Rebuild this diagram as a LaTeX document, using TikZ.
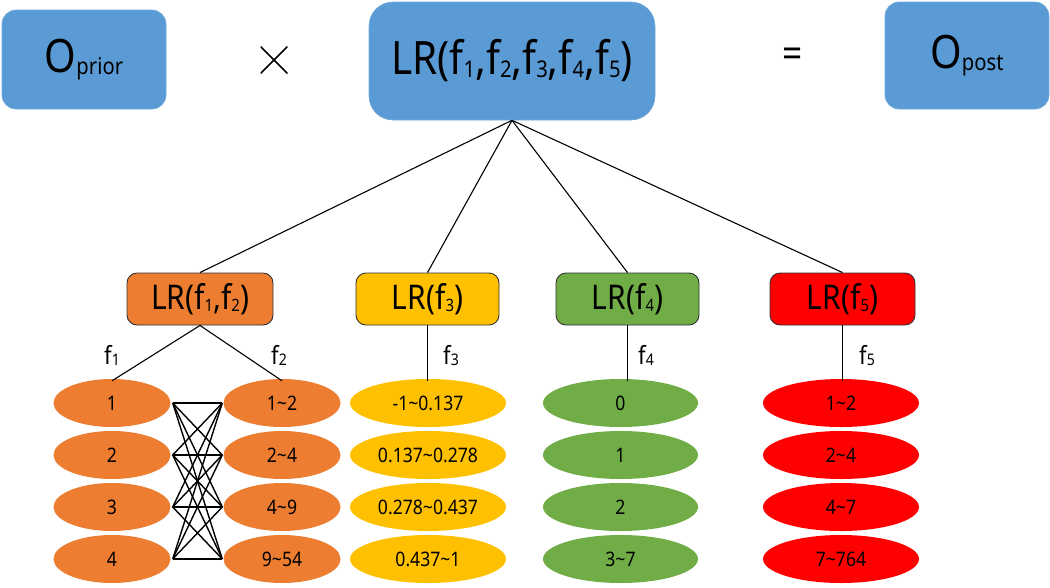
\documentclass[tikz,border=0pt]{standalone}
\usepackage{fontspec}
\setmainfont{Noto Sans}[FakeStretch=0.88]
\usetikzlibrary{shapes.geometric}
\definecolor{cblue}{HTML}{5B9BD5}
\definecolor{corange}{HTML}{ED7D31}
\definecolor{cyellow}{HTML}{FFC000}
\definecolor{cgreen}{HTML}{70AD47}
\definecolor{cred}{HTML}{FF0000}
\newcommand\mysub[2]{\raisebox{-0.05em}{\fontsize{#1}{#1}\selectfont #2}}
\begin{document}
\begin{tikzpicture}[x=1pt,y=-1pt,
  topbox/.style={rectangle,rounded corners=14pt,fill=cblue,draw=cblue!85!white,line width=0.6pt,inner sep=0pt,font=\fontsize{46}{46}\selectfont},
  midbox/.style={rectangle,rounded corners=10pt,draw=black!80,line width=0.9pt,inner sep=0pt,minimum height=52pt,font=\fontsize{34}{34}\selectfont},
  val/.style={ellipse,inner sep=0pt,minimum height=48pt,font=\fontsize{20}{20}\selectfont},
  flab/.style={anchor=base,inner sep=0pt,font=\fontsize{25}{25}\selectfont},
  link/.style={draw=black,line width=1.1pt},
  mesh/.style={draw=black,line width=1.4pt},
  opsign/.style={inner sep=0pt,minimum size=#1,path picture={
     \draw[line width=1.6pt] (path picture bounding box.north west) -- (path picture bounding box.south east)
       (path picture bounding box.north east) -- (path picture bounding box.south west);}}]
\useasboundingbox (0,0) rectangle (1050,587);
% top row
\node[topbox,minimum width=164pt,minimum height=99pt] (oprior) at (84,59.5) {O\mysub{23pt}{prior}};
\node[opsign=27pt] (times) at (274,60) {};
\node[topbox,rounded corners=24pt,minimum width=286pt,minimum height=118pt] (lrall) at (512,61)
  {LR(f\mysub{23pt}{1},f\mysub{23pt}{2},f\mysub{23pt}{3},f\mysub{23pt}{4},f\mysub{23pt}{5})};
\node[font=\fontsize{40}{40}\selectfont,inner sep=0pt] (eq) at (793,58) {=};
\node[topbox,minimum width=164pt,minimum height=107pt] (opost) at (967,55.5) {O\mysub{23pt}{post}};
% second level
\node[midbox,fill=corange,minimum width=146pt] (lr12) at (200,299) {LR(f\mysub{17pt}{1},f\mysub{17pt}{2})};
\node[midbox,fill=cyellow,minimum width=143pt] (lr3) at (427.5,299) {LR(f\mysub{17pt}{3})};
\node[midbox,fill=cgreen,minimum width=143pt] (lr4) at (627.5,299) {LR(f\mysub{17pt}{4})};
\node[midbox,fill=cred,minimum width=145pt] (lr5) at (842.5,299) {LR(f\mysub{17pt}{5})};
\foreach \n in {lr12,lr3,lr4,lr5} \draw[link] (lrall.south) -- (\n.north);
% value ellipses
\foreach \i/\y/\a/\b/\c/\d/\e in {1/403/1/1\textasciitilde2/-1\textasciitilde0.137/0/1\textasciitilde2,
                                   2/455/2/2\textasciitilde4/0.137\textasciitilde0.278/1/2\textasciitilde4,
                                   3/507/3/4\textasciitilde9/0.278\textasciitilde0.437/2/4\textasciitilde7,
                                   4/559/4/9\textasciitilde54/0.437\textasciitilde1/3\textasciitilde7/7\textasciitilde764}{
  \node[val,fill=corange,minimum width=117pt] (a\i) at (112,\y) {\a};
  \node[val,fill=corange,minimum width=117pt] (b\i) at (282,\y) {\b};
  \node[val,fill=cyellow,minimum width=156pt] (c\i) at (428,\y) {\c};
  \node[val,fill=cgreen,minimum width=155pt] (d\i) at (620.5,\y) {\d};
  \node[val,fill=cred,minimum width=156pt] (e\i) at (841,\y) {\e};
}
% mesh between f1 and f2 values
\foreach \i in {1,...,4}{\foreach \j in {1,...,4}{
  \draw[mesh] ([xshift=2pt]a\i.east) -- ([xshift=-1pt]b\j.west);
}}
% feature links
\draw[link] (lr12.south) -- ([yshift=-2pt]a1.north);
\draw[link] (lr12.south) -- ([yshift=-2pt]b1.north);
\draw[link] (lr3.south) -- ([yshift=-2pt]lr3.south |- c1.north);
\draw[link] (lr4.south) -- ([yshift=-2pt]lr4.south |- d1.north);
\draw[link] (lr5.south) -- ([yshift=-2pt]lr5.south |- e1.north);
\node[flab] (f1) at (112,364) {f\mysub{16pt}{1}};
\node[flab] (f2) at (279,364) {f\mysub{16pt}{2}};
\node[flab] (f3) at (451,364) {f\mysub{16pt}{3}};
\node[flab] (f4) at (646,364) {f\mysub{16pt}{4}};
\node[flab] (f5) at (867,364) {f\mysub{16pt}{5}};
\end{tikzpicture}
\end{document}
